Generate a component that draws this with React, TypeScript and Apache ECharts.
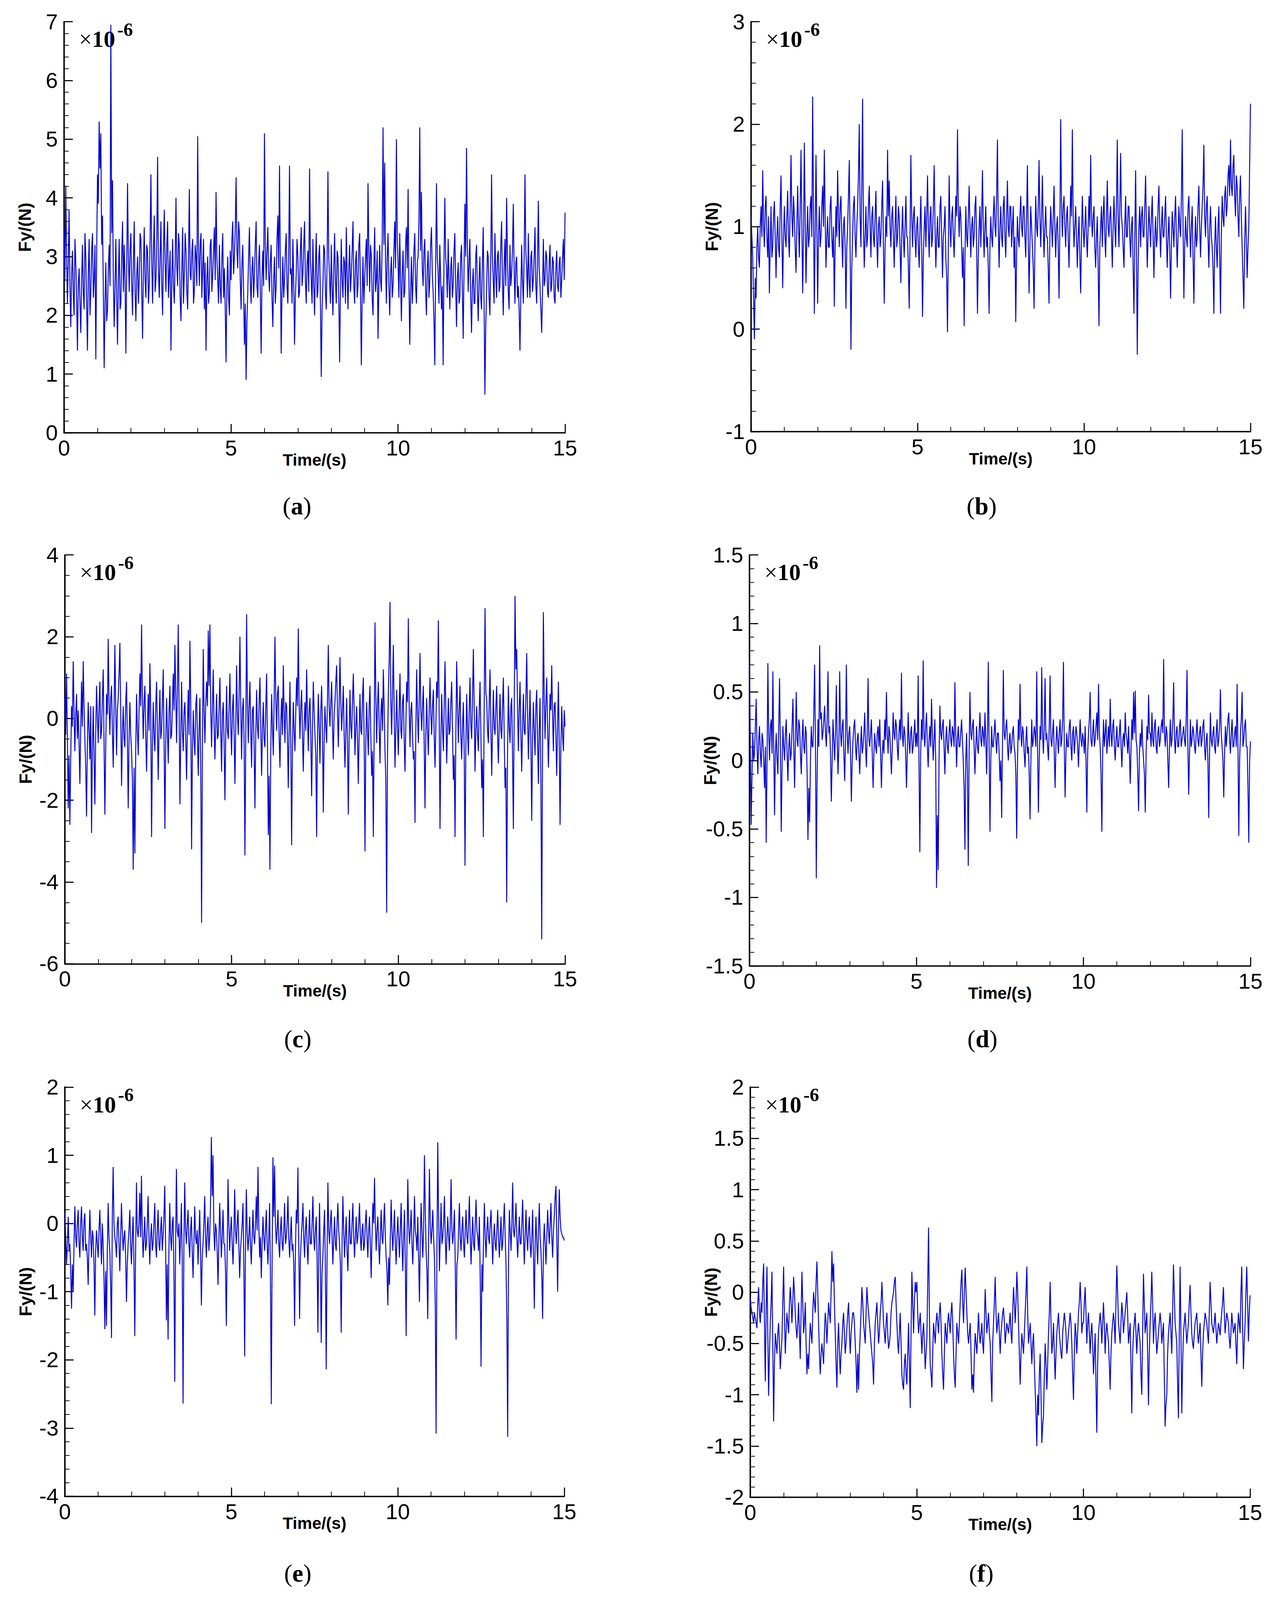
import React, { useEffect, useRef } from "react";
import * as echarts from "echarts";

// ---------- data (Fy in units of 1e-6 N, sampled uniformly over 0..15 s, 40 samples per second) ----------
const T_END = 15;

const A_VALUES = [
  3.5, 2.6, 4.2, 3.0, 2.2, 2.9, 3.8, 2.5, 1.8, 2.7, 3.1, 2.4, 2.0, 3.3, 2.9, 2.3, 1.4, 2.5, 2.8, 2.2, 1.7, 2.6, 3.2, 2.4, 2.1, 3.4, 3.0, 2.2, 1.4, 2.7, 3.3, 2.0, 2.4, 3.1, 3.4, 2.3, 2.6, 3.2, 1.25, 3.0,
  4.4, 3.9, 5.3, 4.5, 5.1, 3.2, 3.7, 2.4, 1.1, 2.2, 2.9, 1.9, 2.1, 2.8, 3.2, 2.5, 6.95, 3.4, 4.3, 2.6, 1.8, 2.5, 3.3, 2.3, 1.5, 2.6, 3.3, 2.1, 2.2, 3.0, 3.6, 2.4, 3.2, 2.6, 1.35, 2.8, 4.25, 3.0, 2.4, 3.1,
  3.4, 2.5, 2.0, 2.9, 3.6, 2.4, 1.9, 2.7, 3.0, 2.2, 2.6, 3.4, 3.3, 2.4, 1.6, 2.8, 3.5, 2.6, 2.3, 3.2, 3.1, 2.2, 2.5, 3.3, 4.4, 2.9, 2.2, 3.1, 3.7, 2.4, 2.6, 3.3, 4.7, 2.8, 2.3, 3.0, 3.6, 2.5, 2.0, 3.1,
  3.8, 2.9, 2.4, 3.2, 3.6, 2.3, 2.7, 3.1, 1.4, 2.6, 3.3, 2.5, 2.2, 2.9, 4.0, 2.8, 2.5, 3.4, 3.2, 2.3, 1.9, 2.8, 3.5, 2.2, 2.7, 3.4, 3.1, 2.4, 2.1, 3.0, 4.15, 2.7, 2.6, 3.1, 3.3, 2.2, 2.4, 3.2, 3.0, 2.5,
  5.05, 3.1, 2.5, 3.2, 3.4, 2.3, 2.8, 3.3, 2.1, 2.9, 1.4, 2.6, 3.0, 2.2, 2.4, 3.2, 3.3, 2.4, 2.7, 3.1, 3.5, 2.6, 4.1, 3.0, 2.6, 2.2, 3.2, 2.5, 2.2, 3.0, 3.4, 2.3, 2.8, 2.1, 1.2, 2.5, 3.0, 2.3, 2.0, 3.1,
  2.6, 3.3, 3.6, 2.7, 3.0, 3.5, 4.35, 3.1, 2.8, 3.6, 3.4, 2.6, 2.1, 2.9, 3.2, 2.4, 1.5, 2.2, 0.9, 1.9, 2.4, 3.0, 3.5, 2.6, 2.2, 2.8, 3.0, 2.3, 2.7, 3.2, 3.6, 2.5, 2.3, 2.9, 3.2, 2.4, 1.35, 2.6, 3.1, 2.5,
  5.1, 3.2, 2.6, 3.1, 3.5, 2.7, 2.4, 2.9, 3.2, 2.3, 1.8, 2.6, 3.0, 2.2, 2.5, 3.3, 3.7, 2.8, 4.55, 2.9, 1.35, 2.4, 3.0, 2.3, 2.6, 3.1, 3.4, 2.5, 2.2, 3.0, 4.55, 2.7, 2.8, 2.2, 3.3, 2.6, 1.5, 2.3, 2.7, 3.3,
  3.0, 2.3, 2.4, 3.1, 3.5, 2.5, 2.7, 3.2, 3.6, 2.6, 2.2, 2.9, 3.1, 2.4, 4.5, 3.0, 2.6, 2.2, 3.3, 2.5, 2.0, 2.8, 3.4, 2.3, 2.4, 3.0, 3.2, 2.2, 0.95, 2.1, 2.5, 3.2, 3.1, 2.4, 2.1, 2.9, 4.45, 3.0, 2.6, 2.2,
  3.2, 2.5, 2.0, 2.8, 3.4, 2.6, 2.2, 3.1, 3.0, 2.3, 1.2, 2.4, 3.3, 2.6, 2.3, 3.0, 2.9, 2.2, 3.5, 2.7, 2.1, 2.8, 3.2, 2.4, 2.7, 3.1, 3.6, 2.5, 2.2, 2.9, 3.1, 2.3, 2.5, 3.2, 3.4, 2.4, 1.15, 2.3, 3.0, 2.2,
  2.6, 3.0, 3.3, 2.5, 4.25, 3.1, 2.4, 3.2, 3.0, 2.3, 2.0, 2.8, 3.5, 2.4, 2.6, 3.1, 1.6, 2.5, 3.2, 2.6, 2.4, 3.3, 5.2, 3.2, 4.6, 2.9, 2.2, 3.0, 3.4, 2.5, 2.0, 2.7, 3.0, 2.3, 2.5, 3.1, 3.6, 2.8, 5.0, 3.3,
  2.9, 2.3, 3.4, 2.6, 1.9, 2.7, 3.1, 2.3, 2.4, 3.2, 3.5, 2.8, 4.15, 2.6, 1.5, 2.4, 3.0, 2.2, 2.6, 3.1, 3.4, 2.5, 2.2, 2.9, 3.0, 3.6, 5.2, 3.1, 4.1, 2.8, 2.5, 3.1, 3.3, 2.4, 2.0, 2.8, 3.1, 2.3, 2.6, 3.2,
  3.5, 2.7, 2.4, 1.9, 1.15, 2.8, 4.25, 3.0, 2.7, 2.2, 3.2, 2.6, 2.1, 2.5, 1.15, 2.9, 4.0, 3.0, 2.8, 2.3, 3.3, 2.6, 2.1, 2.8, 3.0, 2.3, 2.5, 3.1, 3.4, 2.5, 1.8, 2.6, 2.9, 2.2, 2.3, 3.0, 3.2, 2.4, 1.6, 2.8,
  3.9, 3.0, 4.85, 3.2, 2.4, 2.9, 3.3, 2.3, 1.7, 2.5, 2.8, 2.2, 2.2, 3.0, 3.2, 2.4, 1.9, 2.6, 3.0, 2.3, 2.1, 2.9, 3.5, 2.2, 0.65, 1.8, 2.4, 3.1, 3.0, 2.3, 2.0, 2.9, 4.4, 3.0, 2.6, 2.2, 3.4, 2.7, 2.3, 3.0,
  3.1, 2.4, 2.5, 3.2, 3.6, 2.6, 2.0, 2.8, 3.3, 2.5, 4.0, 3.0, 2.4, 2.1, 3.2, 2.5, 2.7, 3.1, 3.9, 2.8, 2.2, 2.9, 3.0, 2.3, 2.5, 2.1, 1.4, 2.3, 3.2, 2.6, 2.2, 3.0, 4.4, 3.1, 2.8, 2.3, 3.4, 2.6, 2.3, 3.0,
  3.1, 2.4, 2.6, 3.0, 3.5, 2.5, 2.2, 2.9, 3.95, 2.8, 2.5, 2.1, 1.7, 2.4, 3.3, 2.5, 2.6, 3.1, 3.0, 2.4, 2.3, 2.9, 3.2, 2.4, 2.5, 3.0, 2.9, 2.3, 2.2, 2.8, 3.1, 2.5, 2.4, 2.9, 3.0, 2.3, 2.6, 3.0, 3.3, 2.6,
  3.75,
];

const B_VALUES = [
  1.1, 0.9, 0.7, 0.3, -0.1, 0.5, 0.3, 0.8, 1.0, 0.7, 0.6, 1.0, 1.2, 0.9, 1.55, 1.0, 0.8, 1.2, 1.3, 0.9, 0.7, 1.1, 0.35, 0.8, 1.2, 0.7, 0.8, 1.1, 1.25, 0.9, 0.5, 0.9, 1.1, 0.8, 0.7, 1.2, 1.5, 0.9, 0.4, 0.9,
  1.2, 0.9, 0.8, 1.1, 1.35, 0.9, 0.7, 1.2, 1.7, 1.1, 0.9, 1.3, 1.1, 0.8, 0.55, 1.0, 1.4, 1.0, 0.7, 1.2, 1.75, 1.0, 0.35, 0.9, 1.82, 1.1, 0.45, 0.9, 1.2, 0.8, 0.9, 1.2, 1.3, 0.9, 2.27, 1.2, 0.15, 0.9, 1.7, 1.0,
  0.25, 0.9, 1.2, 0.8, 0.9, 1.2, 1.4, 1.0, 1.75, 1.1, 0.6, 0.9, 1.1, 0.8, 0.8, 1.2, 1.3, 0.9, 0.7, 1.0, 0.22, 0.8, 1.2, 0.9, 1.55, 1.1, 0.8, 1.2, 1.3, 0.9, 0.6, 1.0, 1.1, 0.8, 0.2, 0.8, 1.0, 1.3, 1.65, 0.8,
  -0.2, 0.6, 0.9, 1.2, 1.3, 0.9, 0.7, 1.0, 1.2, 1.5, 2.0, 1.1, 0.8, 1.4, 2.25, 1.0, 0.6, 0.9, 1.2, 0.8, 0.9, 1.2, 1.4, 1.0, 0.7, 1.1, 1.2, 0.9, 0.8, 1.1, 1.35, 0.9, 0.6, 1.0, 1.1, 0.8, 0.9, 1.2, 1.45, 0.8,
  0.25, 0.8, 1.1, 0.9, 1.75, 1.1, 1.45, 1.0, 0.8, 1.1, 1.2, 0.9, 0.6, 1.0, 1.3, 0.8, 0.9, 1.2, 1.1, 0.8, 0.45, 0.9, 1.2, 0.9, 0.7, 1.0, 1.3, 0.9, 0.9, 0.6, 0.2, 0.9, 1.7, 1.1, 0.8, 1.1, 1.2, 0.9, 0.7, 1.0,
  1.1, 0.8, 0.6, 1.0, 1.3, 0.8, 0.12, 0.7, 1.0, 1.2, 0.8, 1.1, 1.5, 1.0, 0.7, 1.1, 1.2, 0.8, 0.9, 1.2, 1.6, 1.0, 0.6, 0.9, 1.1, 0.8, 0.8, 1.2, 1.3, 0.9, 0.5, 0.9, 1.0, 1.2, 0.7, 0.5, -0.03, 0.8, 1.5, 1.0,
  0.8, 1.1, 1.2, 0.9, 0.7, 1.0, 1.3, 1.1, 1.95, 1.2, 0.9, 1.2, 1.1, 0.8, 0.5, 0.8, 0.03, 0.7, 1.2, 0.9, 0.8, 1.1, 1.4, 1.0, 0.7, 1.0, 1.1, 0.8, 0.9, 1.2, 1.3, 0.8, 0.15, 0.7, 1.0, 1.2, 0.8, 1.1, 1.55, 1.0,
  0.7, 1.0, 1.2, 0.8, 0.9, 0.6, 0.15, 0.8, 1.1, 0.9, 0.8, 1.1, 1.3, 1.0, 0.9, 1.3, 1.85, 1.0, 0.6, 1.0, 1.2, 0.9, 0.8, 1.2, 1.3, 0.9, 0.7, 1.1, 1.45, 1.0, 0.9, 1.2, 1.2, 0.8, 1.0, 1.2, 0.6, 0.9, 0.07, 0.7,
  1.1, 0.9, 0.8, 1.1, 1.3, 1.0, 0.9, 1.2, 1.2, 0.9, 0.7, 1.1, 1.6, 0.9, 0.35, 0.8, 1.2, 1.0, 0.8, 0.6, 0.2, 0.8, 1.3, 1.0, 0.9, 1.2, 1.65, 1.1, 0.8, 1.1, 1.5, 1.0, 0.7, 1.0, 1.2, 0.9, 0.9, 0.6, 0.25, 0.9,
  1.2, 1.0, 0.8, 1.1, 1.4, 1.0, 0.7, 1.0, 1.1, 0.8, 0.3, 1.0, 2.05, 1.2, 0.9, 1.2, 1.3, 1.0, 0.8, 1.1, 1.2, 0.9, 0.6, 1.0, 1.4, 1.1, 1.95, 1.1, 0.8, 1.0, 1.2, 0.9, 0.6, 0.9, 1.1, 0.7, 0.35, 0.9, 1.3, 1.0,
  0.8, 1.0, 1.2, 0.9, 0.7, 1.0, 1.3, 1.0, 1.7, 1.1, 0.9, 1.1, 1.2, 0.8, 0.6, 0.9, 1.1, 0.6, 0.03, 0.8, 1.0, 1.2, 0.8, 1.1, 1.3, 0.9, 0.7, 1.1, 1.45, 1.0, 0.9, 1.1, 1.2, 0.9, 0.6, 1.0, 1.3, 1.0, 0.8, 1.2,
  1.85, 1.1, 0.8, 1.2, 1.72, 1.1, 1.0, 0.8, 0.6, 1.0, 1.3, 0.9, 0.9, 1.2, 1.2, 0.9, 0.7, 1.0, 1.1, 0.6, 0.15, 0.9, 1.55, 0.8, -0.25, 0.6, 1.0, 1.2, 0.8, 1.1, 1.2, 0.9, 0.9, 1.2, 1.5, 1.0, 0.6, 0.9, 1.2, 1.0,
  0.8, 1.1, 1.3, 0.9, 0.5, 0.9, 1.1, 0.8, 0.9, 1.2, 1.4, 1.0, 0.7, 1.0, 1.2, 0.9, 0.9, 1.1, 1.3, 0.9, 0.6, 0.9, 1.1, 0.8, 0.3, 0.8, 1.15, 1.0, 0.8, 1.1, 1.3, 0.9, 0.6, 0.9, 1.2, 1.0, 0.9, 1.3, 1.95, 1.0,
  0.3, 0.8, 1.1, 0.9, 0.8, 1.2, 1.3, 1.0, 0.7, 1.0, 1.2, 0.7, 0.25, 0.8, 1.1, 0.8, 0.9, 1.2, 1.4, 1.0, 0.7, 1.0, 1.2, 1.4, 1.8, 1.1, 0.9, 1.2, 1.3, 0.9, 0.6, 1.0, 1.2, 0.9, 0.8, 0.6, 0.15, 0.8, 1.1, 0.8,
  0.6, 1.0, 1.2, 0.7, 0.15, 0.9, 1.3, 1.1, 1.0, 1.3, 1.4, 1.1, 1.2, 1.5, 1.6, 1.3, 1.85, 1.4, 1.3, 1.6, 1.7, 1.3, 1.1, 1.5, 1.4, 1.1, 0.9, 1.3, 1.5, 1.1, 0.8, 0.5, 0.2, 0.8, 1.2, 0.9, 0.5, 0.8, 1.0, 1.6,
  2.2,
];

const C_VALUES = [
  0.5, -0.4, 1.1, -0.5, -2.2, -0.9, -2.6, -1.0, 0.3, -0.2, 1.4, 0.2, -0.8, 0.1, 0.6, -0.5, 0.2, -0.6, -1.6, -0.3, 0.9, -0.2, 1.4, 0.3, -0.5, -1.2, -2.4, -0.6, 0.4, -0.3, -1.0, 0.3, -2.8, -0.8, 0.3, -0.9, -2.1, -0.4, 0.8, 0.1,
  -0.6, 0.3, 0.9, -0.5, -0.3, 0.5, 1.2, -0.6, -2.35, -0.7, 0.6, 0.1, 1.95, 0.4, -0.4, 0.5, 0.8, -0.3, -1.2, 0.2, 1.8, 0.3, -0.9, 0.2, 0.5, 1.1, 1.85, 0.2, -1.65, -0.4, 0.3, -0.5, -0.7, 0.4, 0.9, -0.6, -2.2, -0.5, 0.4, -0.4,
  -0.8, -1.5, -3.7, -1.2, -3.3, -0.8, 0.6, -0.3, -0.9, 0.2, 1.1, 0.3, 2.3, 0.5, -0.5, 0.4, 0.8, -0.4, -1.3, -0.2, 0.6, -0.3, 1.35, 0.2, -2.9, -0.7, 0.4, -0.4, -0.8, 0.3, 0.9, -0.3, -1.5, -0.2, 0.7, -0.5, -0.3, 0.4, 1.2, -0.6,
  -2.7, -0.6, 0.5, -0.3, -1.1, 0.2, 0.8, -0.5, -0.4, 0.3, 1.1, 0.2, 1.8, 0.6, -0.6, 0.7, 2.3, 0.3, -2.1, -0.5, 0.9, -0.3, -0.8, 0.2, 0.4, -0.5, -1.5, -0.2, 0.7, -0.4, 1.9, 0.4, -3.2, -0.8, 0.2, -0.5, -0.9, 0.3, 0.6, -0.4,
  -1.4, -0.3, 0.5, -1.2, -5.0, -0.8, 1.7, 0.2, -0.6, 0.4, 0.9, 0.3, 2.15, 0.8, 2.3, 0.2, -0.7, 0.3, 1.2, -0.2, -1.0, -0.1, 0.6, -0.5, -0.4, 0.3, 1.0, -0.3, -1.3, 0.1, 0.4, -0.6, -2.0, -0.4, 0.8, -0.3, -0.5, 0.3, 1.1, -0.2,
  -0.9, 0.2, 0.6, -0.4, -1.6, -0.2, 1.3, 0.1, -0.4, 0.6, 2.0, 0.3, -1.0, 0.2, 0.5, -0.6, -3.35, -0.5, 2.55, 0.4, -0.6, 0.3, 0.9, -0.3, -1.2, 0.2, 0.3, -0.7, -2.2, -0.4, 0.7, -0.2, -0.5, 0.4, 1.0, -0.2, -1.4, -0.3, 0.4, -0.5,
  -0.7, 0.3, 1.1, -0.6, -2.85, -1.4, -3.7, -0.8, 0.6, -0.2, -0.9, 0.4, 2.0, 0.5, -0.3, 0.6, 0.8, -0.4, -1.2, -0.1, 0.5, -0.4, 1.3, 0.2, -0.6, 0.4, 0.3, -0.5, -1.7, -0.3, 0.9, -0.6, -3.1, -0.7, 0.4, -0.3, -0.8, 0.2, 1.0, 0.3,
  2.2, 0.4, -0.5, 0.3, 0.7, -0.4, -1.3, -0.2, 0.4, -0.3, 1.2, 0.1, -0.8, 0.2, 0.5, -0.4, -1.9, -0.3, 0.9, 0.2, -0.4, -0.9, -2.9, -0.5, 0.6, -0.2, -1.1, 0.2, 0.8, -0.3, -2.3, -0.6, 0.3, -0.2, -0.6, 0.5, 1.8, 0.3, -0.2, 0.4,
  0.9, -0.2, -1.0, 0.1, 0.4, 0.9, 1.3, 0.2, -0.7, 0.3, 1.5, 0.4, -0.3, 0.2, 0.8, -0.4, -1.2, -0.3, 0.5, -0.6, -2.35, -0.5, 0.7, -0.2, -0.5, 0.4, 1.1, 0.2, -0.9, -0.2, 0.3, -0.5, -1.6, -0.4, 0.6, -0.3, -0.4, 0.5, 1.0, -0.6,
  -3.25, -0.6, 0.4, -0.3, -0.9, 0.3, 0.8, -0.4, -1.4, -0.8, -2.9, -0.4, 2.35, 0.6, -0.6, 0.3, 0.9, -0.2, -1.1, 0.1, 0.5, -0.3, 1.2, 0.3, -0.8, -1.5, -4.75, -0.9, 0.6, 1.4, 2.85, 0.5, -0.4, 0.6, 1.8, 0.2, -1.2, -0.3, 0.7, -0.2,
  -0.9, 0.2, 1.1, -0.3, -0.5, 0.4, 0.6, -0.5, -1.3, -0.2, 0.9, 0.4, 2.45, 0.3, -0.7, 0.2, 0.4, -0.4, -1.0, -0.8, -2.55, -0.3, 1.2, 0.1, -0.6, 0.4, 1.6, 0.2, -0.3, 0.3, 0.8, -0.6, -2.2, -0.4, 0.5, -0.3, -0.9, 0.2, 1.0, 0.1,
  -0.4, 0.3, 0.7, -0.4, -1.2, -0.2, 0.9, 0.5, 2.4, 0.1, -2.7, -0.6, 0.6, -0.2, -0.8, 0.3, 1.4, 0.2, -1.1, -0.3, 0.5, -0.4, -0.3, 0.4, 0.9, -0.3, -1.5, -0.9, -2.9, -0.4, 1.4, 0.3, -0.6, 0.2, 0.8, -0.4, -1.0, -0.2, 0.4, -0.8,
  -3.6, -0.7, 0.6, -0.3, -0.9, 0.2, 1.0, -0.2, -0.5, 0.5, 1.7, 0.3, -1.3, -0.3, 0.3, -0.4, -0.8, 0.2, 0.9, -0.3, -1.7, -1.0, -2.9, 0.4, 2.7, 0.6, 0.5, -0.3, -0.6, 0.4, 1.2, -0.2, -1.4, -0.3, 0.7, -0.2, -0.4, 0.3, 0.8, -0.4,
  -1.1, -0.2, 0.6, -0.3, -0.5, 0.3, 1.0, -0.4, -1.7, -1.2, -4.5, -0.9, 0.8, -0.2, -0.6, 0.3, 0.5, -0.9, -2.7, 0.2, 3.0, 1.2, 1.7, 0.3, -0.8, 0.2, 0.9, -0.4, -1.3, -0.2, 0.6, -0.3, -0.4, 0.5, 1.6, 0.2, -1.0, -0.2, 0.7, -0.6,
  -2.5, -0.5, 0.4, -0.3, -0.9, 0.3, 0.7, -0.5, -1.6, -0.3, 0.5, -1.5, -5.4, -0.8, 2.6, 0.5, -0.5, 0.4, 1.0, -0.2, -1.2, -0.3, 0.6, 0.2, 1.3, 0.1, -0.8, 0.3, 0.4, -0.4, -1.4, -0.2, 0.9, -0.6, -2.6, -0.7, 0.3, -0.4, -0.8, 0.2,
  -0.2,
];

const D_VALUES = [
  0.75, 0.1, -0.47, -0.1, 0.2, 0.0, 0.05, 0.25, 0.45, 0.1, -0.1, 0.15, 0.25, 0.05, -0.05, 0.2, 0.15, 0.0, -0.2, 0.1, -0.6, 0.0, 0.71, 0.2, 0.0, 0.25, 0.3, 0.05, 0.65, 0.1, -0.4, 0.05, 0.2, 0.0, -0.1, 0.25, 0.6, 0.1, -0.52, -0.05,
  0.25, 0.1, 0.0, 0.2, 0.3, 0.05, -0.15, 0.1, 0.2, 0.0, 0.05, 0.25, 0.45, 0.1, -0.2, 0.15, 0.5, 0.15, 0.1, 0.3, 0.25, 0.05, -0.1, 0.15, 0.3, 0.1, 0.05, 0.25, 0.2, -0.1, -0.58, -0.2, -0.45, 0.0, 0.25, 0.1, 0.1, 0.35, 0.7, 0.1,
  -0.86, -0.1, 0.3, 0.1, 0.84, 0.3, 0.35, 0.15, 0.2, 0.3, 0.4, 0.2, 0.1, 0.3, 0.65, 0.2, 0.25, 0.05, -0.3, 0.0, 0.3, 0.15, 0.0, 0.2, 0.55, 0.15, -0.1, 0.1, 0.65, 0.2, 0.1, 0.25, 0.3, 0.05, -0.15, 0.15, 0.7, 0.2, 0.05, 0.2,
  0.25, 0.05, -0.3, 0.0, 0.15, 0.25, 0.3, 0.1, 0.0, 0.15, 0.2, 0.05, -0.1, 0.1, 0.25, 0.05, 0.1, 0.2, 0.35, 0.1, -0.05, 0.2, 0.6, 0.15, 0.1, 0.2, 0.3, 0.05, -0.2, 0.05, 0.2, 0.1, 0.05, 0.2, 0.25, 0.1, 0.3, 0.05, -0.2, 0.05,
  0.15, 0.05, 0.3, 0.15, 0.5, 0.2, 0.05, 0.25, 0.2, 0.05, -0.1, 0.1, 0.35, 0.2, 0.15, 0.3, 0.25, 0.1, 0.0, 0.2, 0.3, 0.15, 0.64, 0.2, 0.1, 0.25, 0.2, 0.05, -0.2, 0.05, 0.35, 0.15, 0.05, 0.2, 0.25, 0.05, 0.1, 0.2, 0.3, 0.1,
  0.2, 0.1, 0.62, 0.0, -0.67, 0.05, 0.3, 0.15, 0.73, 0.2, 0.1, 0.25, 0.35, 0.1, -0.05, 0.15, 0.25, 0.1, 0.45, 0.2, 0.0, 0.15, 0.3, 0.0, -0.93, -0.4, -0.8, 0.0, 0.4, 0.2, 0.15, 0.25, 0.3, 0.1, -0.1, 0.15, 0.25, 0.1, 0.05, 0.2,
  0.3, 0.15, 0.1, 0.25, 0.2, 0.1, 0.57, 0.2, -0.05, 0.15, 0.25, 0.1, 0.1, 0.2, 0.3, 0.15, 0.0, -0.2, -0.65, 0.0, 0.2, -0.1, -0.77, 0.05, 0.5, 0.2, 0.15, 0.25, 0.3, 0.1, -0.1, 0.1, 0.25, 0.1, 0.05, 0.2, 0.35, 0.15, 0.1, 0.25,
  0.2, 0.1, 0.35, 0.15, -0.1, 0.2, 0.72, 0.1, -0.52, 0.0, 0.25, 0.1, 0.1, 0.2, 0.3, 0.15, 0.05, 0.2, 0.2, 0.05, -0.15, 0.0, -0.42, 0.1, 0.66, 0.2, 0.15, 0.25, 0.3, 0.1, 0.0, 0.15, 0.2, 0.05, 0.1, 0.2, 0.25, 0.1, 0.05, -0.1,
  -0.57, 0.0, 0.3, 0.15, 0.56, 0.2, 0.1, 0.25, 0.2, 0.05, -0.05, 0.15, 0.25, 0.05, 0.1, -0.1, -0.43, 0.0, 0.3, 0.1, 0.15, 0.25, 0.2, 0.1, 0.65, 0.1, -0.38, 0.0, 0.25, 0.15, 0.68, 0.2, 0.05, 0.25, 0.6, 0.15, 0.2, 0.1, 0.0, 0.25,
  0.62, 0.15, 0.1, 0.2, 0.3, 0.05, -0.2, 0.1, 0.25, 0.15, 0.05, 0.2, 0.3, 0.1, 0.15, 0.3, 0.72, 0.1, -0.27, 0.05, 0.2, 0.1, 0.1, 0.25, 0.3, 0.1, 0.0, 0.2, 0.25, 0.05, 0.15, 0.25, 0.2, 0.1, -0.05, 0.15, 0.3, 0.15, 0.1, 0.2,
  0.15, 0.05, 0.25, 0.0, -0.38, 0.05, 0.2, 0.3, 0.5, 0.15, 0.1, 0.2, 0.3, 0.1, 0.15, 0.25, 0.35, 0.15, 0.56, 0.2, 0.1, -0.1, -0.52, 0.05, 0.3, 0.1, 0.2, 0.3, 0.05, 0.15, 0.25, 0.1, 0.45, 0.2, 0.1, 0.25, 0.3, 0.1, 0.0, 0.15,
  0.25, 0.1, 0.1, 0.2, 0.3, 0.1, -0.05, 0.15, 0.2, 0.1, 0.35, 0.2, 0.15, 0.05, 0.25, 0.05, -0.17, 0.1, 0.3, 0.15, 0.5, 0.2, 0.51, 0.15, 0.1, -0.1, -0.37, 0.05, 0.2, 0.1, 0.3, 0.1, 0.0, -0.1, -0.38, 0.05, 0.25, 0.15, 0.48, 0.2,
  0.2, 0.1, 0.35, 0.15, 0.1, 0.25, 0.3, 0.1, 0.05, 0.2, 0.25, 0.1, 0.15, 0.25, 0.3, 0.2, 0.74, 0.2, 0.1, 0.25, 0.2, 0.0, -0.2, 0.1, 0.3, 0.1, 0.15, 0.3, 0.57, 0.15, 0.05, 0.2, 0.25, 0.1, 0.1, 0.25, 0.3, 0.1, 0.15, 0.2,
  0.25, 0.15, 0.1, 0.3, 0.66, 0.1, -0.25, 0.05, 0.3, 0.1, 0.15, 0.25, 0.2, 0.1, 0.05, 0.2, 0.3, 0.15, 0.1, 0.2, 0.25, 0.1, 0.15, 0.25, 0.3, 0.1, 0.0, 0.15, 0.2, 0.0, -0.42, 0.05, 0.35, 0.15, 0.1, 0.2, 0.25, 0.1, 0.05, 0.2,
  0.3, 0.1, 0.15, 0.25, 0.52, 0.2, 0.1, 0.0, -0.27, 0.05, 0.25, 0.1, 0.2, 0.3, 0.35, 0.15, 0.05, 0.2, 0.3, 0.1, 0.1, 0.2, 0.25, 0.1, 0.56, 0.1, -0.55, 0.0, 0.2, 0.3, 0.5, 0.1, 0.15, 0.25, 0.3, 0.1, 0.1, -0.2, -0.6, 0.0,
  0.14,
];

const E_VALUES = [
  0.15, -0.2, -0.6, -0.3, 0.1, -0.4, -0.3, -0.7, -1.25, -0.6, -1.0, -0.3, 0.25, -0.2, -0.35, 0.0, 0.2, -0.3, -0.5, 0.0, 0.25, -0.2, -0.4, 0.05, 0.15, -0.4, -0.3, -0.5, -0.9, -0.3, 0.2, -0.2, -0.5, -0.1, -0.2, -0.6, -1.35, -0.4, -0.1, -0.3,
  -0.5, -0.1, 0.2, -0.2, -0.6, 0.0, -0.3, -0.8, -1.55, -0.7, -1.5, -0.4, 0.3, -0.2, -0.4, -0.9, -1.68, 0.1, 0.83, 0.0, -0.2, -0.3, -0.5, 0.0, 0.1, -0.3, -0.7, -0.2, 0.3, -0.1, -0.4, -0.2, -0.1, -0.5, -1.15, -0.6, -0.3, -0.1, 0.2, -0.3,
  -0.6, -0.2, 0.1, -0.6, -1.65, -0.4, 0.6, -0.1, -0.2, 0.0, 0.45, -0.2, 0.7, -0.1, -0.5, -0.2, 0.1, -0.4, -0.3, 0.0, 0.4, -0.2, -0.6, -0.2, 0.0, -0.4, -0.3, 0.0, 0.3, -0.3, -0.5, -0.1, 0.2, -0.3, -0.4, -0.1, 0.1, -0.4, -0.2, 0.1,
  0.55, -0.3, -1.42, -0.6, -1.7, -0.4, 0.3, -0.2, -0.4, 0.0, 0.1, -0.7, -2.32, -0.4, 0.8, -0.1, -0.2, 0.0, -0.6, -0.2, 0.3, -0.6, -2.64, -0.3, 0.6, -0.1, -0.3, 0.0, 0.2, -0.3, -0.5, -0.1, 0.1, -0.4, -0.8, -0.3, 0.25, -0.2, -0.3, -0.1,
  -0.6, -0.2, 0.2, -0.4, -1.2, -0.5, -0.3, 0.0, 0.4, -0.2, -0.5, -0.1, 0.1, -0.4, -0.2, 0.3, 1.27, 0.4, 1.0, -0.1, -0.4, 0.0, -0.1, -0.4, -0.9, -0.3, 0.3, -0.1, -0.5, -0.2, 0.2, -0.3, -0.3, -0.7, -1.5, -0.4, 0.65, 0.0, -0.4, -0.1,
  0.1, -0.3, -0.6, -0.2, 0.5, -0.1, -0.3, 0.0, 0.2, -0.3, -0.8, -0.4, -0.2, 0.0, 0.3, -0.6, -1.95, -0.4, 0.5, -0.1, -0.4, -0.2, 0.1, -0.3, -0.6, -0.2, 0.2, -0.2, -0.3, 0.0, 0.4, -0.1, 0.83, 0.0, -0.5, -0.2, -0.8, -0.3, 0.1, -0.2,
  -0.4, -0.1, 0.2, -0.3, -0.6, -0.2, 0.3, -0.8, -2.65, -0.5, 0.97, 0.1, 0.85, 0.0, -0.3, -0.1, 0.2, -0.3, -0.5, -0.1, 0.1, -0.3, -0.4, -0.1, 0.3, -0.3, -0.2, 0.0, 0.4, -0.2, -0.5, -0.2, 0.1, -0.4, -0.3, -0.6, -1.5, -0.4, 0.2, 0.0,
  0.82, -0.3, -1.4, -0.5, -0.2, 0.0, 0.3, -0.2, -0.5, -0.1, 0.1, -0.3, -0.6, -0.2, 0.2, -0.3, -0.3, 0.0, 0.4, -0.2, -0.4, -0.1, 0.1, -0.5, -1.6, -0.4, 0.3, -0.6, -1.75, -0.7, -0.5, -0.1, 0.2, -0.7, -2.14, -0.5, 0.6, -0.1, -0.3, 0.0,
  0.2, -0.2, -0.6, -0.2, 0.1, -0.3, -0.4, 0.0, 0.3, -0.1, -0.3, -0.6, -1.6, -0.3, 0.4, -0.1, -0.5, -0.2, 0.1, -0.4, -0.7, -0.2, 0.2, -0.3, -0.3, 0.0, 0.3, -0.2, -0.5, -0.2, 0.1, -0.3, -0.2, 0.0, 0.3, -0.2, -0.4, -0.1, 0.0, -0.4,
  -0.3, 0.0, 0.2, -0.2, -0.5, -0.1, 0.1, -0.3, -0.8, -0.2, 0.3, 0.0, 0.67, 0.0, -0.4, -0.1, 0.1, -0.3, -0.6, -0.2, 0.2, -0.2, -0.3, 0.0, 0.3, -0.2, -0.5, -0.7, -1.2, -0.5, -0.9, -0.2, 0.35, -0.1, -0.4, -0.1, 0.2, -0.3, -0.6, -0.2,
  0.1, -0.2, -0.5, -0.1, 0.3, -0.3, -0.7, -0.2, 0.2, -0.6, -1.65, -0.3, 0.65, 0.0, -0.3, -0.1, 0.2, -0.3, -0.6, -0.2, 0.4, -0.1, -0.2, -0.4, 0.1, -0.5, -1.15, -0.3, 0.3, -0.1, -0.5, -0.1, 1.0, 0.2, -0.4, -0.7, -1.4, -0.2, 0.8, 0.0,
  -0.3, -0.1, 0.2, -0.2, -0.5, -1.2, -3.08, -0.4, 1.19, 0.1, -0.7, -0.2, 0.3, -0.3, -0.2, 0.0, 0.4, -0.2, -0.6, -0.2, 0.1, -0.2, -0.4, 0.0, 0.65, -0.1, -0.3, -0.1, 0.2, -0.6, -1.7, -0.6, -0.5, -0.1, 0.3, -0.2, -0.4, -0.1, 0.1, -0.3,
  -0.5, -0.1, 0.2, -0.2, -0.3, 0.0, 0.4, -0.2, -0.6, -0.2, 0.1, -0.3, -0.4, 0.0, 0.35, -0.1, -0.2, -0.4, 0.1, -0.8, -2.1, -0.6, -1.0, -0.2, 0.3, -0.2, -0.5, -0.1, 0.1, -0.2, -0.3, 0.0, 0.2, -0.2, -0.6, -0.2, 0.0, -0.3, -0.4, -0.1,
  0.2, -0.2, -0.5, -0.2, 0.1, -0.4, -0.3, 0.0, 0.3, -0.2, -0.6, -1.4, -3.13, -0.6, 0.2, -0.1, -0.4, 0.0, 0.6, -0.1, -0.2, 0.0, 0.3, -0.2, -0.5, -0.2, 0.1, -0.3, -0.3, 0.0, 0.35, -0.2, -0.6, -0.2, 0.2, -0.2, -0.4, -0.1, 0.1, -0.3,
  -0.5, -0.2, 0.2, -0.5, -1.25, -0.3, 0.1, -0.3, -0.6, -0.1, 0.3, -0.2, -0.4, -0.8, -1.4, -0.3, 0.0, -0.3, -0.6, -0.2, 0.2, -0.1, -0.3, 0.0, 0.3, -0.2, -0.5, -0.1, 0.1, 0.4, 0.55, -0.2, -1.0, -0.1, 0.5, 0.1, -0.1, -0.15, -0.2, -0.2,
  -0.25,
];

const F_VALUES = [
  -0.05, -0.15, -0.2, -0.25, -0.3, -0.2, -0.25, -0.3, -0.35, -0.1, 0.05, -0.2, -0.3, -0.1, -0.2, 0.1, 0.28, -0.3, -0.87, -0.2, 0.25, -0.4, -1.01, -0.6, -0.3, -0.1, 0.2, -0.5, -1.26, -0.7, -0.4, -0.5, -0.6, -0.4, -0.3, -0.5, -0.75, -0.6, -0.45, -0.1,
  0.25, -0.2, -0.6, -0.4, -0.2, -0.3, -0.4, -0.1, 0.05, -0.1, -0.3, -0.1, 0.15, 0.0, -0.2, -0.35, -0.45, -0.3, -0.1, -0.4, -0.65, -0.2, 0.2, -0.1, -0.4, -0.3, -0.1, -0.5, -0.8, -0.6, -0.75, -0.5, -0.3, -0.4, -0.5, -0.2, 0.0, -0.1, -0.2, 0.1,
  0.3, 0.0, -0.3, -0.6, -0.8, -0.6, -0.5, -0.6, -0.7, -0.4, -0.2, -0.3, -0.5, -0.3, -0.1, -0.2, -0.3, 0.0, 0.4, 0.1, 0.28, -0.1, -0.4, -0.7, -0.93, -0.5, -0.3, -0.6, -0.8, -0.6, -0.5, -0.3, -0.2, -0.4, -0.6, -0.5, -0.35, -0.2, -0.1, -0.4,
  -0.6, -0.4, -0.3, -0.2, -0.2, -0.3, -0.5, -0.7, -0.98, -0.6, -0.95, -0.6, -0.4, -0.2, 0.05, -0.1, -0.3, -0.4, -0.5, -0.2, 0.05, -0.1, -0.2, -0.3, -0.4, -0.5, -0.6, -0.7, -0.9, -0.5, -0.3, -0.2, -0.1, -0.3, -0.5, -0.4, -0.2, -0.1, 0.1, -0.1,
  -0.3, -0.4, -0.5, -0.3, -0.2, -0.4, -0.55, -0.5, -0.4, -0.2, -0.1, -0.05, 0.0, 0.1, 0.15, -0.1, -0.3, -0.5, -0.6, -0.4, -0.2, -0.5, -0.8, -0.9, -0.95, -0.7, -0.6, -0.8, -0.9, -0.6, -0.3, -0.7, -1.13, -0.4, 0.2, -0.1, -0.4, -0.1, 0.1, 0.0,
  0.1, -0.2, -0.4, -0.3, -0.2, -0.4, -0.6, -0.4, -0.3, -0.5, -0.75, -0.6, -0.45, 0.1, 0.63, -0.2, -0.7, -0.8, -0.93, -0.6, -0.3, -0.4, -0.5, -0.3, -0.2, -0.3, -0.4, -0.2, -0.1, -0.3, -0.6, -0.8, -0.95, -0.6, -0.3, -0.4, -0.5, -0.3, -0.2, -0.3,
  -0.4, -0.2, -0.1, -0.3, -0.6, -0.8, -0.93, -0.6, -0.3, -0.4, -0.5, -0.3, -0.1, 0.1, 0.22, -0.1, -0.3, 0.0, 0.24, 0.0, -0.2, -0.4, -0.5, -0.4, -0.3, -0.6, -0.95, -0.8, -0.98, -0.6, -0.4, -0.5, -0.6, -0.4, -0.2, -0.4, -0.5, -0.4, -0.3, -0.5,
  -0.6, -0.3, 0.03, -0.2, -0.4, -0.3, -0.2, -0.4, -0.5, -0.8, -1.07, -0.5, -0.3, -0.1, 0.15, -0.2, -0.4, -0.3, -0.2, -0.4, -0.6, -0.4, -0.3, -0.2, -0.15, -0.3, -0.5, -0.4, -0.3, -0.35, -0.4, -0.3, -0.2, -0.4, -0.5, -0.2, 0.05, -0.1, -0.3, -0.1,
  0.2, 0.0, -0.3, -0.6, -0.9, -0.6, -0.4, -0.5, -0.6, -0.4, -0.2, 0.0, 0.25, -0.2, -0.5, -0.4, -0.3, -0.5, -0.7, -0.5, -0.4, -0.7, -0.95, -1.2, -1.5, -1.0, -1.2, -0.8, -0.6, -1.0, -1.47, -1.3, -1.2, -0.8, -0.5, -0.7, -0.95, -0.7, -0.4, -0.2,
  0.1, -0.3, -0.6, -0.5, -0.3, -0.6, -0.85, -0.6, -0.4, -0.3, -0.2, -0.4, -0.5, -0.6, -0.65, -0.4, -0.3, -0.2, -0.28, -0.4, -0.6, -0.5, -0.4, -0.3, -0.2, -0.3, -0.5, -0.8, -1.05, -0.6, -0.3, -0.4, -0.6, -0.4, -0.2, -0.1, 0.1, -0.1, -0.4, -0.3,
  -0.3, -0.1, 0.05, -0.2, -0.5, -0.3, -0.2, -0.4, -0.6, -0.4, -0.3, -0.5, -0.8, -0.6, -0.4, -0.9, -1.37, -0.7, -0.4, -0.3, -0.2, -0.3, -0.5, -0.3, -0.1, -0.3, -0.6, -0.4, -0.3, -0.4, -0.5, -0.7, -0.95, -0.6, -0.4, -0.3, -0.2, -0.3, -0.5, -0.1,
  0.26, 0.0, -0.3, -0.4, -0.5, -0.3, -0.1, -0.2, -0.4, -0.3, -0.2, -0.1, 0.0, -0.2, -0.5, -0.4, -0.3, -0.7, -1.18, -0.6, -0.4, -0.3, -0.2, -0.4, -0.6, -0.4, -0.3, -0.4, -0.5, -0.8, -1.0, -0.4, 0.18, -0.1, -0.4, -0.3, -0.2, -0.6, -1.1, -0.6,
  -0.3, -0.1, 0.2, -0.1, -0.5, -0.3, -0.2, -0.4, -0.6, -0.5, -0.4, -0.3, -0.2, -0.3, -0.5, -0.4, -0.3, -0.8, -1.31, -1.1, -1.0, -0.6, -0.4, -0.3, -0.2, -0.4, -0.6, -0.2, 0.27, 0.0, -0.3, -0.4, -0.5, -0.9, -1.23, -0.4, 0.25, -0.4, -1.18, -0.7,
  -0.4, -0.3, -0.2, -0.35, -0.5, -0.4, -0.3, -0.1, 0.07, -0.2, -0.4, -0.5, -0.55, -0.4, -0.3, -0.25, -0.2, -0.4, -0.5, -0.4, -0.3, -0.6, -0.92, -0.6, -0.4, -0.3, -0.2, -0.25, -0.3, -0.4, -0.5, -0.2, 0.1, -0.1, -0.3, -0.35, -0.4, -0.3, -0.2, -0.35,
  -0.5, -0.4, -0.3, -0.35, -0.42, -0.3, -0.2, -0.1, 0.05, -0.2, -0.4, -0.3, -0.2, -0.25, -0.3, -0.45, -0.55, -0.4, -0.2, -0.3, -0.4, -0.35, -0.3, -0.5, -0.7, -0.4, -0.2, -0.3, -0.4, 0.0, 0.25, -0.3, -0.75, -0.5, -0.3, 0.0, 0.25, -0.1, -0.48, -0.2,
  -0.03,
];

const PANEL_LETTERS = ["a", "b", "c", "d", "e", "f"];
const PANEL_VALUES = [A_VALUES, B_VALUES, C_VALUES, D_VALUES, E_VALUES, F_VALUES];
const Y_MIN = [0, -1, -6, -1.5, -4, -2];
const Y_MAX = [7, 3, 4, 1.5, 2, 2];
const Y_INTERVAL = [1, 1, 2, 0.5, 1, 0.5];
const Y_MINOR_SPLIT = [5, 5, 4, 5, 5, 5];
const X_TICK_INTERVAL = 5;
const X_AXIS_NAME = "Time/(s)";
const Y_AXIS_NAME = "Fy/(N)";
const SCALE_BASE = "10";
const SCALE_EXP = "-6";

// ---------- layout (designed for a 3273 x 4411 page, scaled to the real viewport) ----------
const DESIGN_W = 3273;
const DESIGN_H = 4411;
const GRID_LAYOUT = [
  { left: 164, top: 60, width: 1282, height: 1133 },
  { left: 1922, top: 60, width: 1278, height: 1130 },
  { left: 166, top: 1530, width: 1280, height: 1127 },
  { left: 1918, top: 1530, width: 1282, height: 1133 },
  { left: 166, top: 2997, width: 1278, height: 1128 },
  { left: 1920, top: 2997, width: 1279, height: 1131 },
];
const CAPTION_POS = [
  [760, 1396],
  [2512, 1396],
  [762, 2865],
  [2514, 2865],
  [762, 4338],
  [2511, 4338],
];

const SANS = "'Liberation Sans', Arial, Helvetica, sans-serif";
const SERIF = "'Liberation Serif', 'Times New Roman', Times, serif";
const LINE_BLUE = "#0000CD";

function buildOption(sx: number, sy: number) {
  const s = Math.min(sx, sy);
  const grid: any[] = [];
  const xAxis: any[] = [];
  const yAxis: any[] = [];
  const series: any[] = [];
  const graphic: any[] = [];

  PANEL_VALUES.forEach((vals, i) => {
    const g = GRID_LAYOUT[i];
    const left = g.left * sx;
    const top = g.top * sy;
    grid.push({ left, top, width: g.width * sx, height: g.height * sy, containLabel: false });

    const axisCommon = {
      axisLine: { show: true, onZero: false, lineStyle: { color: "#000", width: 4 * s } },
      axisTick: { show: true, inside: true, length: 24 * s, lineStyle: { color: "#000", width: 3 * s } },
      splitLine: { show: false },
      minorSplitLine: { show: false },
    };
    const minorLine = { color: "#000", width: 2 * s };

    xAxis.push({
      ...axisCommon,
      type: "value",
      gridIndex: i,
      min: 0,
      max: T_END,
      interval: X_TICK_INTERVAL,
      minorTick: { show: true, splitNumber: 5, length: 13 * s, lineStyle: minorLine },
      name: X_AXIS_NAME,
      nameLocation: "middle",
      nameGap: 51 * sy,
      nameMoveOverlap: false,
      nameTextStyle: { fontFamily: SANS, fontWeight: "bold", fontSize: 46 * s, color: "#000" },
      axisLabel: { show: true, margin: 12 * sy, fontFamily: SANS, fontSize: 60 * s, color: "#000" },
    });

    yAxis.push({
      ...axisCommon,
      type: "value",
      gridIndex: i,
      min: Y_MIN[i],
      max: Y_MAX[i],
      interval: Y_INTERVAL[i],
      minorTick: { show: true, splitNumber: Y_MINOR_SPLIT[i], length: 13 * s, lineStyle: minorLine },
      name: Y_AXIS_NAME,
      nameLocation: "middle",
      nameGap: 78 * sx,
      nameMoveOverlap: false,
      nameTextStyle: { fontFamily: SANS, fontWeight: "bold", fontSize: 48 * s, color: "#000" },
      axisLabel: { show: true, margin: 16 * sx, fontFamily: SANS, fontSize: 60 * s, color: "#000" },
    });

    const dt = T_END / (vals.length - 1);
    series.push({
      type: "line",
      xAxisIndex: i,
      yAxisIndex: i,
      data: vals.map((v, k) => [k * dt, v]),
      showSymbol: false,
      symbol: "none",
      silent: true,
      lineStyle: { color: LINE_BLUE, width: 2.6 * s },
      z: 1,
    });

    graphic.push({
      type: "text",
      x: left + 38 * sx,
      y: top + 48 * sy,
      silent: true,
      style: {
        text: "{m|×}{n|" + SCALE_BASE + "}",
        fill: "#000",
        align: "left",
        verticalAlign: "middle",
        rich: {
          m: { fontFamily: SERIF, fontSize: 64 * s, fontWeight: "normal", fill: "#000" },
          n: { fontFamily: SERIF, fontSize: 64 * s, fontWeight: "bold", fill: "#000" },
        },
      },
    });
    graphic.push({
      type: "text",
      x: left + 136 * sx,
      y: top + 21 * sy,
      silent: true,
      style: {
        text: SCALE_EXP,
        fill: "#000",
        align: "left",
        verticalAlign: "middle",
        fontFamily: SERIF,
        fontSize: 52 * s,
        fontWeight: "bold",
      },
    });

    const c = CAPTION_POS[i];
    graphic.push({
      type: "text",
      x: c[0] * sx,
      y: c[1] * sy,
      silent: true,
      style: {
        text: "{p|(}{l|" + PANEL_LETTERS[i] + "}{p|)}",
        fill: "#000",
        align: "center",
        verticalAlign: "middle",
        rich: {
          p: { fontFamily: SERIF, fontSize: 68 * s, fontWeight: "normal", fill: "#000" },
          l: { fontFamily: SERIF, fontSize: 68 * s, fontWeight: "bold", fill: "#000" },
        },
      },
    });
  });

  return {
    animation: false,
    backgroundColor: "#ffffff",
    grid,
    xAxis,
    yAxis,
    series,
    graphic,
  };
}

export default function App() {
  const ref = useRef<HTMLDivElement>(null);
  useEffect(() => {
    const el = ref.current;
    if (!el) return;
    const w = el.clientWidth || DESIGN_W;
    const h = el.clientHeight || DESIGN_H;
    const chart = echarts.init(el, null, { renderer: "svg", width: w, height: h });
    chart.setOption(buildOption(w / DESIGN_W, h / DESIGN_H) as any);
    return () => {
      chart.dispose();
    };
  }, []);
  return (
    <div
      ref={ref}
      style={{
        position: "fixed",
        left: 0,
        top: 0,
        width: "100vw",
        height: "100vh",
        background: "#fff",
        overflow: "hidden",
      }}
    />
  );
}
